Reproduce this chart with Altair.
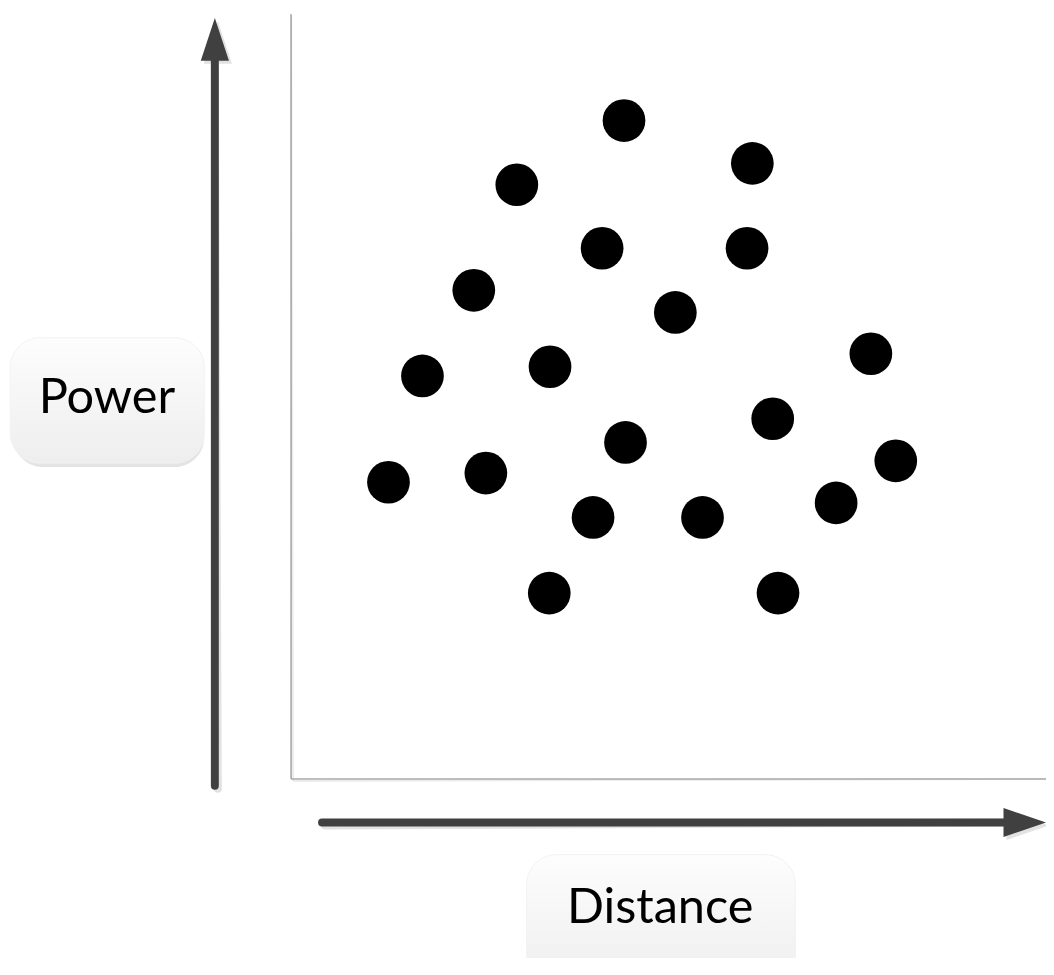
import altair as alt
import pandas as pd

# ---- scatter data (Distance / Power, arbitrary units, plot area = 0..100) ----
distance = [44.1, 61.1, 29.9, 41.2, 60.4, 24.2, 50.9, 76.8, 17.4, 34.3,
            63.8, 44.3, 80.1, 12.9, 25.8, 40.0, 54.5, 72.2, 34.2, 64.5]
power = [86.1, 80.5, 77.7, 69.4, 69.4, 63.9, 61.0, 55.6, 52.7, 53.9,
         47.1, 44.0, 41.6, 38.8, 40.0, 34.2, 34.2, 36.1, 24.3, 24.3]

# ---- axis arrows and labels (same units) ----
arrow_names = ["Power", "Distance"]
arrow_x = [-10.1, 4.1]
arrow_x2 = [-10.1, 94.6]
arrow_y = [-0.9, -5.7]
arrow_y2 = [93.9, -5.7]
head_x = [-10.1, 97.2]
head_y = [96.7, -5.7]

label_x = [-37.2, 31.2]
label_x2 = [-11.5, 66.8]
label_y = [41.3, -27.0]
label_y2 = [57.7, -9.9]
text_x = [-24.4, 48.9]
text_y = [47.8, -18.9]

frame_x = [0, 0]
frame_x2 = [0, 100]
frame_y = [0, 0]
frame_y2 = [100, 0]

X_DOM = [-37.5, 100.0]
Y_DOM = [-23.0, 100.4]

xs = alt.Scale(domain=X_DOM, nice=False, zero=False)
ys = alt.Scale(domain=Y_DOM, nice=False, zero=False)

pts = pd.DataFrame({"Distance": distance, "Power": power})
arrows = pd.DataFrame({"name": arrow_names, "x": arrow_x, "x2": arrow_x2,
                       "y": arrow_y, "y2": arrow_y2})
heads_v = pd.DataFrame({"x": [head_x[0]], "y": [head_y[0]]})
heads_h = pd.DataFrame({"x": [head_x[1]], "y": [head_y[1]]})
labels = pd.DataFrame({"name": arrow_names, "x": label_x, "x2": label_x2,
                       "y": label_y, "y2": label_y2,
                       "tx": text_x, "ty": text_y})
frame = pd.DataFrame({"x": frame_x, "x2": frame_x2, "y": frame_y, "y2": frame_y2})

X = lambda f: alt.X(f, type="quantitative", scale=xs, axis=None)
Y = lambda f: alt.Y(f, type="quantitative", scale=ys, axis=None)

ARROW = "#404040"
SHADOW = "#e2e2e2"

frame_shadow = alt.Chart(frame).mark_rule(color="#ececec", strokeWidth=2, xOffset=2, yOffset=2).encode(
    x=X("x"), x2="x2", y=Y("y"), y2="y2")
frame_line = alt.Chart(frame).mark_rule(color="#a8a8a8", strokeWidth=1.6).encode(
    x=X("x"), x2="x2", y=Y("y"), y2="y2")

shaft_shadow = alt.Chart(arrows).mark_rule(color=SHADOW, strokeWidth=8, strokeCap="round",
                                           xOffset=3, yOffset=3).encode(
    x=X("x"), x2="x2", y=Y("y"), y2="y2")
shaft = alt.Chart(arrows).mark_rule(color=ARROW, strokeWidth=8, strokeCap="round").encode(
    x=X("x"), x2="x2", y=Y("y"), y2="y2")

up_path = "M0,-1L-0.66,1L0.66,1Z"
right_path = "M1,0L-1,-0.68L-1,0.68Z"
head_v_shadow = alt.Chart(heads_v).mark_point(shape=up_path, size=1849, filled=True, opacity=1,
                                               color=SHADOW, xOffset=3, yOffset=3).encode(x=X("x"), y=Y("y"))
head_v = alt.Chart(heads_v).mark_point(shape=up_path, size=1849, filled=True, opacity=1,
                                        color=ARROW).encode(x=X("x"), y=Y("y"))
head_h_shadow = alt.Chart(heads_h).mark_point(shape=right_path, size=1849, filled=True, opacity=1,
                                               color=SHADOW, xOffset=3, yOffset=3).encode(x=X("x"), y=Y("y"))
head_h = alt.Chart(heads_h).mark_point(shape=right_path, size=1849, filled=True, opacity=1,
                                        color=ARROW).encode(x=X("x"), y=Y("y"))

grad = alt.Gradient(gradient="linear", x1=0, x2=0, y1=0, y2=1,
                    stops=[alt.GradientStop(color="#fdfdfd", offset=0),
                           alt.GradientStop(color="#eeeeee", offset=1)])
box_shadow = alt.Chart(labels).mark_rect(cornerRadius=30, color="#e4e4e4", xOffset=3, yOffset=4).encode(
    x=X("x"), x2="x2", y=Y("y"), y2="y2")
box = alt.Chart(labels).mark_rect(cornerRadius=30, fill=grad, stroke="#f2f2f2", strokeWidth=1).encode(
    x=X("x"), x2="x2", y=Y("y"), y2="y2")
box_text = alt.Chart(labels).mark_text(font="Lato", fontSize=49, color="#000000",
                                       align="center", baseline="alphabetic").encode(
    x=X("tx"), y=Y("ty"), text="name:N")

dots = alt.Chart(pts).mark_circle(size=1849, color="#000000", opacity=1).encode(
    x=X("Distance"), y=Y("Power"))

chart = alt.layer(
    frame_shadow, frame_line,
    shaft_shadow, head_v_shadow, head_h_shadow,
    shaft, head_v, head_h,
    box_shadow, box, box_text,
    dots,
).properties(
    width=1045, height=950, padding=0, background="#ffffff",
    autosize=alt.AutoSizeParams(type="none"),
).configure_view(stroke="transparent", strokeWidth=0)

chart.save("out.html", embed_options={"renderer": "svg", "actions": False})
